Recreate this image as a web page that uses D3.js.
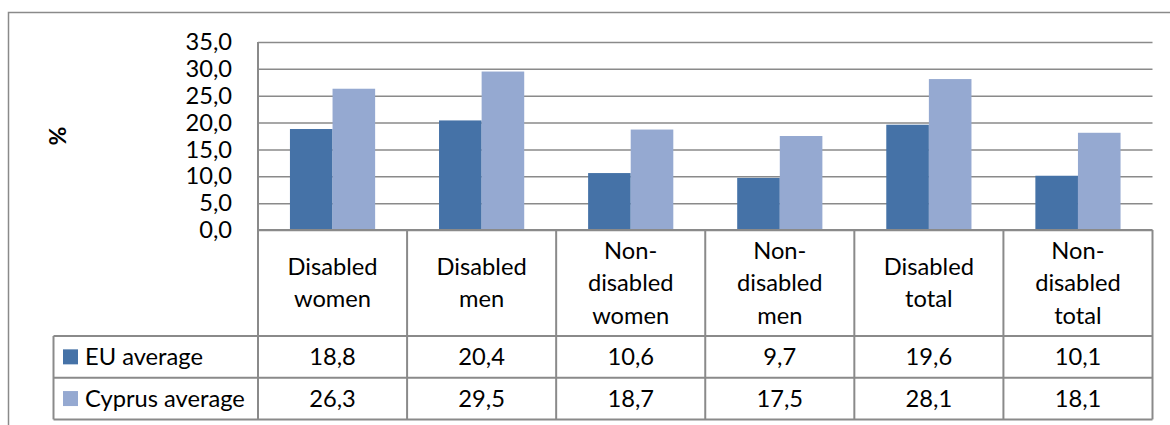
<!DOCTYPE html>
<html>
<head>
<meta charset="utf-8">
<script src="https://cdn.jsdelivr.net/npm/d3@7"></script>
<style>
  html, body { margin: 0; padding: 0; background: #fff; }
  svg { display: block; }
  text { font-family: Lato, "Open Sans", sans-serif; fill: #000; }
</style>
</head>
<body>
<svg id="chart" width="1170" height="425"></svg>
<script>
// Risk of poverty by group, EU vs Cyprus (%)
const categories = [
  "Disabled\nwomen",
  "Disabled\nmen",
  "Non-\ndisabled\nwomen",
  "Non-\ndisabled\nmen",
  "Disabled\ntotal",
  "Non-\ndisabled\ntotal"
];
const seriesNames = ["EU average", "Cyprus average"];
const euAverage = [18.8, 20.4, 10.6, 9.7, 19.6, 10.1];
const cyprusAverage = [26.3, 29.5, 18.7, 17.5, 28.1, 18.1];
const yTicks = [0, 5, 10, 15, 20, 25, 30, 35];
const seriesColors = ["#4572A7", "#95A9D1"];

const seriesValues = [euAverage, cyprusAverage];
const rows = categories.map((c, i) => ({
  category: c,
  values: seriesNames.map((s, k) => ({ series: s, value: seriesValues[k][i] }))
}));

const svg = d3.select("#chart");
const lineColor = "#8a8a8a";
const fontSize = 23.7;

const plot = { left: 258, right: 1152.5, top: 42, bottom: 230 };
const table = { headerBottom: 336, rowH: 41.7, legendLeft: 53.5 };

// Chart frame (open on the right and bottom)
svg.append("path")
  .attr("d", `M8.5,425 V12.5 H1170`)
  .attr("fill", "none")
  .attr("stroke", lineColor)
  .attr("stroke-width", 1.5);

const x = d3.scaleBand().domain(categories).range([plot.left, plot.right]).paddingInner(0).paddingOuter(0);
const xs = d3.scaleBand().domain(seriesNames).range([0, x.bandwidth()]).paddingInner(0).paddingOuter(0.75);
const y = d3.scaleLinear().domain([0, 35]).range([plot.bottom, plot.top]);
const color = d3.scaleOrdinal().domain(seriesNames).range(seriesColors);

const locale = d3.formatLocale({ decimal: ",", thousands: ".", grouping: [3], currency: ["", "€"] });
const fmt = locale.format(".1f");

// Value axis with gridlines
const yAxis = svg.append("g")
  .attr("transform", `translate(${plot.left},0)`)
  .call(d3.axisLeft(y).tickValues(yTicks).tickFormat(fmt)
    .tickSizeInner(-(plot.right - plot.left)).tickSizeOuter(0).tickPadding(26));
yAxis.select(".domain").remove();
yAxis.selectAll(".tick line").attr("stroke", lineColor).attr("stroke-width", 1.5);
yAxis.selectAll(".tick text")
  .attr("font-family", "Lato, sans-serif")
  .attr("font-size", fontSize)
  .attr("fill", "#000");

// Axis title
svg.append("text")
  .attr("transform", `translate(66,${(plot.top + plot.bottom) / 2}) rotate(-90)`)
  .attr("text-anchor", "middle")
  .attr("font-size", 23)
  .attr("font-weight", "bold")
  .text("%");

// Bars
const groups = svg.append("g").selectAll("g")
  .data(rows).join("g")
  .attr("transform", d => `translate(${x(d.category)},0)`);
groups.selectAll("rect")
  .data(d => d.values).join("rect")
  .attr("x", d => xs(d.series))
  .attr("width", xs.bandwidth())
  .attr("y", d => y(d.value))
  .attr("height", d => y(0) - y(d.value))
  .attr("fill", d => color(d.series));

// Data table grid
const tableBottom = table.headerBottom + table.rowH * seriesNames.length;
const grid = svg.append("g").attr("stroke", lineColor).attr("stroke-width", 2).attr("fill", "none");
grid.append("line").attr("x1", plot.left).attr("x2", plot.left).attr("y1", plot.top).attr("y2", tableBottom);
grid.append("line").attr("x1", plot.left).attr("x2", plot.right).attr("y1", plot.bottom).attr("y2", plot.bottom);
categories.forEach(c => {
  const xr = x(c) + x.bandwidth();
  grid.append("line").attr("x1", xr).attr("x2", xr).attr("y1", plot.bottom).attr("y2", tableBottom);
});
seriesNames.forEach((s, k) => {
  const yt = table.headerBottom + table.rowH * k;
  grid.append("line").attr("x1", table.legendLeft).attr("x2", plot.right).attr("y1", yt).attr("y2", yt);
});
grid.append("line").attr("x1", table.legendLeft).attr("x2", plot.right).attr("y1", tableBottom).attr("y2", tableBottom);
grid.append("line").attr("x1", table.legendLeft).attr("x2", table.legendLeft).attr("y1", table.headerBottom).attr("y2", tableBottom);

// Category header labels
const lineH = 32.5;
const headerMid = (plot.bottom + table.headerBottom) / 2 + 8;
svg.append("g").selectAll("text")
  .data(categories).join("text")
  .attr("text-anchor", "middle")
  .attr("font-size", fontSize)
  .each(function (c) {
    const lines = c.split("\n");
    const t = d3.select(this);
    const cx = x(c) + x.bandwidth() / 2;
    lines.forEach((ln, i) => {
      t.append("tspan")
        .attr("x", cx)
        .attr("y", headerMid + (i - (lines.length - 1) / 2) * lineH)
        .text(ln);
    });
  });

// Legend keys and value rows
seriesNames.forEach((s, k) => {
  const yMid = table.headerBottom + table.rowH * (k + 0.5);
  svg.append("rect")
    .attr("x", 63).attr("y", yMid - 7.5)
    .attr("width", 15).attr("height", 15)
    .attr("fill", color(s));
  svg.append("text")
    .attr("x", 85).attr("y", yMid + 8)
    .attr("font-size", fontSize)
    .text(s);
  svg.append("g").selectAll("text")
    .data(rows).join("text")
    .attr("x", d => x(d.category) + x.bandwidth() / 2)
    .attr("y", yMid + 8)
    .attr("text-anchor", "middle")
    .attr("font-size", fontSize)
    .text(d => fmt(d.values[k].value));
});
</script>
</body>
</html>
